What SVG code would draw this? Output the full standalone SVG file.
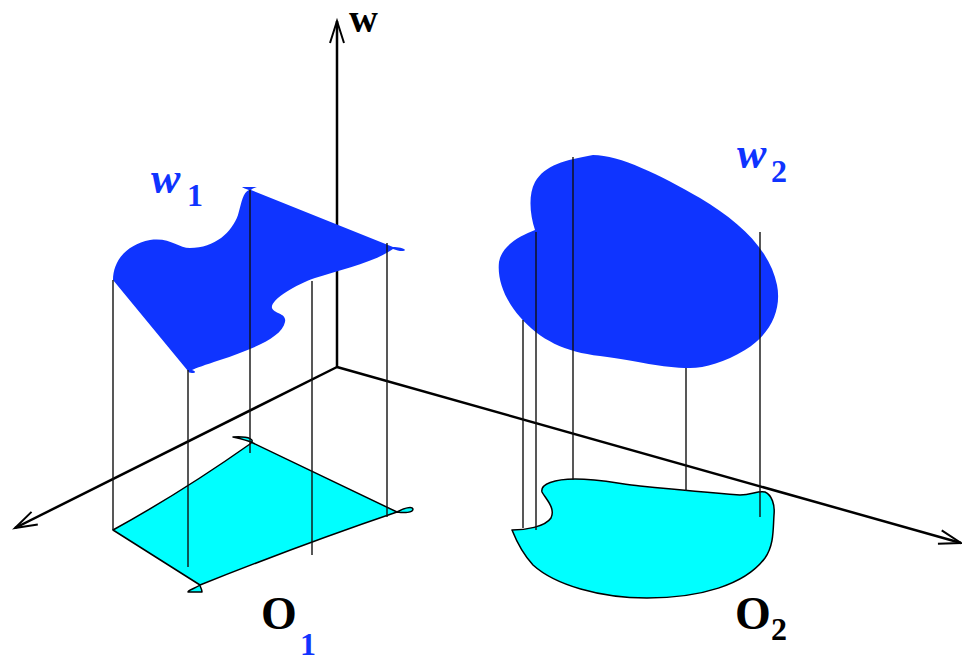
<svg xmlns="http://www.w3.org/2000/svg" width="962" height="658" viewBox="0 0 962 658">
<style>
.axis{fill:none;stroke:#000;stroke-width:2.5}
.proj{fill:none;stroke:#111;stroke-width:1.4}
.blue{fill:#0f34ff;stroke:none}
.cyan{fill:#00ffff;stroke:#000;stroke-width:1.5;stroke-linejoin:round}
.lbl{font-family:"Liberation Serif","Times New Roman",serif;font-weight:bold}
</style>
<defs>
<marker id="ah" markerUnits="userSpaceOnUse" markerWidth="30" markerHeight="20" refX="23" refY="10" orient="auto" overflow="visible">
<path d="M1,3 L23,10 L1,17" fill="none" stroke="#000" stroke-width="2"/>
</marker>
</defs>
<rect width="962" height="658" fill="#fff"/>
<g id="O1">
<path class="cyan" d="M113,530 Q182,492 250,444 C256,440 250,436 233,437 C242,439 249,441 253,443 L397,512 C404,508 412,506 413,509 C413,513 404,513 397,512 Q300,545 200,585 C196,588 188,590 188,592 L202,592 C202,589 200,587 200,585 Z"/>
</g>
<g id="O2">
<path class="cyan" d="M512,530 C525,530 545,527 551,518 C556,508 545,498 542,492 C540,484 555,479 575,479 C600,479 620,484 640,486 C670,489 700,492 740,495 C752,495 758,490 765,492 C772,495 775,505 774,515 C773,530 774,545 765,558 C745,585 700,598 647,598 C600,598 555,585 533,565 C522,553 516,540 512,530 Z"/>
</g>
<g id="axes">
<line class="axis" x1="337" y1="367" x2="337" y2="21" marker-end="url(#ah)"/>
<line class="axis" x1="337" y1="367" x2="15" y2="528" marker-end="url(#ah)"/>
<line class="axis" x1="337" y1="367" x2="961" y2="543" marker-end="url(#ah)"/>
</g>
<g id="w1">
<path class="blue" d="M113,280 C113,262 125,245 150,240 C170,237 178,248 190,248 C215,248 232,232 238,215 C242,200 243,193 249,190 C246,189 243,188 242,187 L257,187 C254,188 252,189 251,190 L393,247 C398,247 404,248 405,250 C404,252 398,251 393,249 C375,262 340,270 315,278 C295,285 270,300 272,308 C274,314 287,313 285,322 C282,338 250,350 220,360 C205,365 196,368 192,370 C196,371 196,373 192,373 C190,373 188,372 188,371 Z"/>
</g>
<g id="w2">
<path class="blue" d="M593,155 C620,155 660,175 700,198 C740,222 770,250 777,285 C782,310 770,335 745,350 C725,362 705,368 690,368 C660,368 640,361 600,356 C565,352 540,340 520,317 C505,300 497,280 499,262 C502,245 520,236 535,230 C530,215 528,195 535,182 C545,165 565,160 593,155 Z"/>
</g>
<g id="connectors">
<line class="proj" x1="113" y1="280" x2="113" y2="530"/>
<line class="proj" x1="188" y1="370" x2="188" y2="567"/>
<line class="proj" x1="250" y1="190" x2="250" y2="453"/>
<line class="proj" x1="312" y1="281" x2="312" y2="555"/>
<line class="proj" x1="387" y1="243" x2="387" y2="517"/>
<line class="proj" x1="523" y1="320" x2="523" y2="528"/>
<line class="proj" x1="536" y1="232" x2="536" y2="530"/>
<line class="proj" x1="573" y1="157" x2="573" y2="480"/>
<line class="proj" x1="686" y1="368" x2="686" y2="491"/>
<line class="proj" x1="760" y1="232" x2="760" y2="517"/>
</g>
<g id="labels">
<text class="lbl" x="349" y="32" font-size="40">w</text>
<text class="lbl" x="151" y="193" font-size="44" font-style="italic" fill="#0f34ff">w</text>
<text class="lbl" x="187" y="206" font-size="32" fill="#0f34ff">1</text>
<text class="lbl" x="737" y="168" font-size="44" font-style="italic" fill="#0f34ff">w</text>
<text class="lbl" x="771" y="182" font-size="32" fill="#0f34ff">2</text>
<text class="lbl" x="261" y="629" font-size="46">O</text>
<text class="lbl" x="300" y="655" font-size="32" fill="#0f34ff">1</text>
<text class="lbl" x="735" y="629" font-size="46">O</text>
<text class="lbl" x="771" y="640" font-size="32">2</text>
</g>
</svg>
